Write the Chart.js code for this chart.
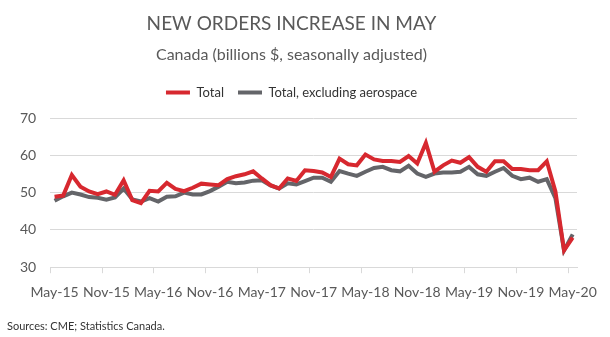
<!DOCTYPE html>
<html>
<head>
<meta charset="utf-8">
<script src="https://cdn.jsdelivr.net/npm/chart.js@4.4.1/dist/chart.umd.min.js"></script>
<style>
  body { margin: 0; background: #fff; }
  #wrap { position: relative; width: 610px; height: 337px; }
  #source { position: absolute; left: 7px; top: 319px; font: 11px Lato, sans-serif; color: #333; }
</style>
</head>
<body>
<div id="wrap">
  <canvas id="chart" width="610" height="337"></canvas>
  <div id="source">Sources: CME; Statistics Canada.</div>
</div>
<script>
//? months, May-15 .. May-20
const months = [
  'May-15','Jun-15','Jul-15','Aug-15','Sep-15','Oct-15','Nov-15','Dec-15',
  'Jan-16','Feb-16','Mar-16','Apr-16','May-16','Jun-16','Jul-16','Aug-16','Sep-16','Oct-16','Nov-16','Dec-16',
  'Jan-17','Feb-17','Mar-17','Apr-17','May-17','Jun-17','Jul-17','Aug-17','Sep-17','Oct-17','Nov-17','Dec-17',
  'Jan-18','Feb-18','Mar-18','Apr-18','May-18','Jun-18','Jul-18','Aug-18','Sep-18','Oct-18','Nov-18','Dec-18',
  'Jan-19','Feb-19','Mar-19','Apr-19','May-19','Jun-19','Jul-19','Aug-19','Sep-19','Oct-19','Nov-19','Dec-19',
  'Jan-20','Feb-20','Mar-20','Apr-20','May-20'
]

//? Total new orders
const total = [
  48.9, 49.2, 54.7, 51.6, 50.3, 49.6, 50.3, 49.4,
  53.3, 48.0, 47.2, 50.5, 50.3, 52.6, 51.0, 50.4, 51.3, 52.4, 52.2, 52.0,
  53.6, 54.4, 54.9, 55.7, 53.8, 52.0, 51.1, 53.8, 53.1, 56.0, 55.8, 55.4,
  54.2, 59.1, 57.6, 57.3, 60.2, 58.9, 58.5, 58.5, 58.2, 59.8, 57.8, 63.3,
  55.6, 57.3, 58.6, 58.0, 59.5, 56.9, 55.6, 58.4, 58.4, 56.3, 56.3, 56.0,
  56.0, 58.4, 50.3, 34.5, 37.9
]

//? Total, excluding aerospace
const exAero = [
  47.8, 49.0, 50.0, 49.5, 48.8, 48.6, 48.1, 48.7,
  51.1, 48.2, 47.6, 48.5, 47.6, 48.9, 49.0, 50.0, 49.5, 49.5, 50.4, 51.6,
  52.9, 52.5, 52.7, 53.2, 53.3, 51.9, 51.1, 52.5, 52.2, 53.1, 54.0, 54.0,
  52.9, 55.8, 55.1, 54.5, 55.6, 56.6, 56.9, 56.0, 55.7, 57.2, 55.1, 54.2,
  55.1, 55.4, 55.4, 55.6, 56.9, 54.9, 54.5, 55.6, 56.6, 54.5, 53.6, 54.0,
  52.9, 53.6, 48.5, 34.5, 38.8
]

const yTicks = [30, 40, 50, 60, 70]

const red = '#d7282f'
const grey = '#646569'
const textCol = '#595959'
const gridCol = '#d9d9d9'
const font = 'Lato, "Open Sans", sans-serif'

//* extra room under the legend
const legendGap = {
  id: 'legendGap',
  beforeInit(chart) {
    const fit = chart.legend.fit
    chart.legend.fit = function () {
      fit.bind(chart.legend)()
      this.height += 9
    }
  },
}

let ctx = document.getElementById('chart').getContext('2d')

chart = new Chart(ctx, {
  type: 'line',
  data: {
    labels: months,
    datasets: [
      {
        label: 'Total',
        data: total,
        borderColor: red,
        backgroundColor: red,
        borderWidth: 4,
        pointRadius: 0,
        tension: 0,
      },
      {
        label: 'Total, excluding aerospace',
        data: exAero,
        borderColor: grey,
        backgroundColor: grey,
        borderWidth: 4,
        pointRadius: 0,
        tension: 0,
      },
    ],
  },
  options: {
    responsive: false,
    animation: false,
    layout: { padding: { left: 6, right: 33, top: 6, bottom: 25 } },
    plugins: {
      title: {
        display: true,
        text: 'NEW ORDERS INCREASE IN MAY',
        color: textCol,
        font: { family: font, size: 19, weight: 'normal' },
        padding: { top: 6, bottom: 10 },
      },
      subtitle: {
        display: true,
        text: 'Canada (billions $, seasonally adjusted)',
        color: textCol,
        font: { family: font, size: 16, weight: 'normal' },
        padding: { top: 0, bottom: 8 },
      },
      legend: {
        labels: {
          color: '#333',
          font: { family: font, size: 13 },
          usePointStyle: true,
          pointStyle: 'line',
          pointStyleWidth: 24,
          boxHeight: 13,
          padding: 14,
        },
      },
      tooltip: { enabled: false },
    },
    scales: {
      x: {
        offset: true,
        grid: {
          offset: true,
          drawOnChartArea: false,
          tickLength: 6,
          color: (c) => (c.index % 6 === 0 ? gridCol : 'rgba(0,0,0,0)'),
        },
        border: { display: true, color: gridCol },
        ticks: {
          autoSkip: false,
          maxRotation: 0,
          padding: 11,
          color: textCol,
          font: { family: font, size: 14 },
          callback: function (v, i) {
            return i % 6 === 0 ? months[i] : ''
          },
        },
      },
      y: {
        min: 30,
        max: 70,
        afterBuildTicks: (axis) => { axis.ticks = yTicks.map((v) => ({ value: v })) },
        grid: { color: gridCol, drawTicks: false },
        border: { display: false },
        ticks: {
          padding: 14,
          color: textCol,
          font: { family: font, size: 14 },
        },
      },
    },
  },
  plugins: [legendGap],
})
</script>
</body>
</html>
